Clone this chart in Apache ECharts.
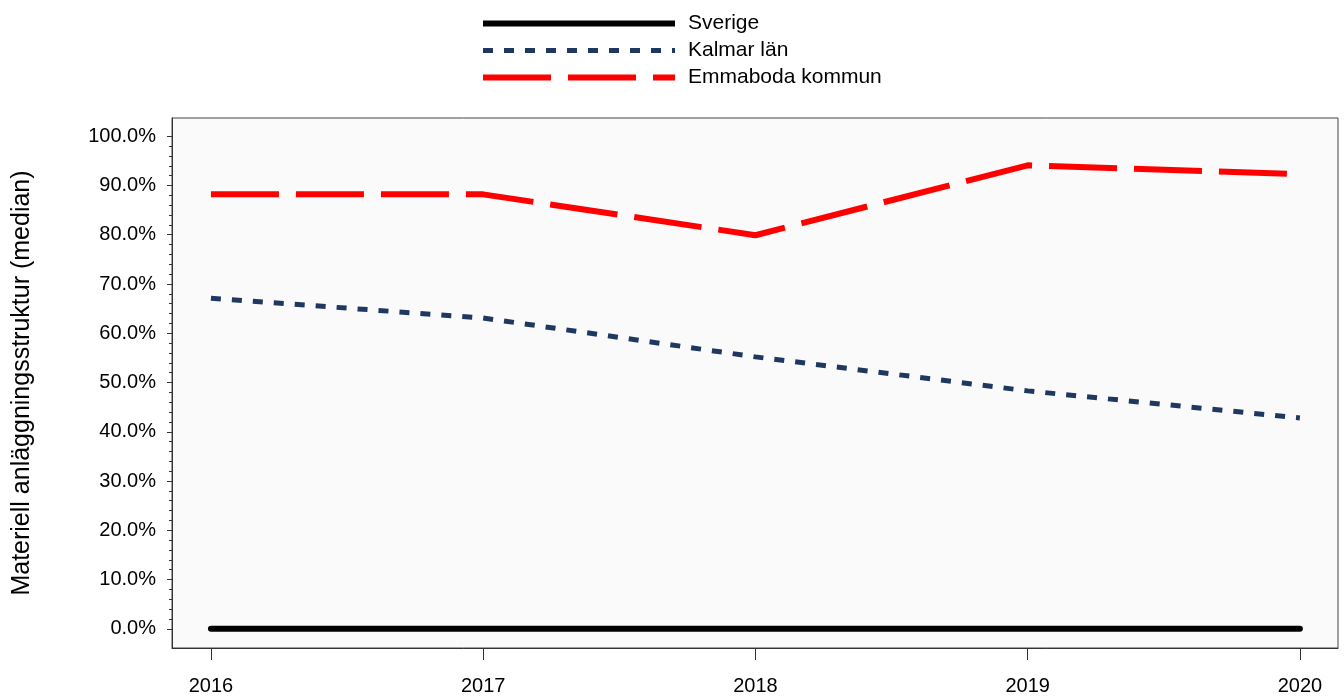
<!DOCTYPE html>
<html><head><meta charset="utf-8">
<script src="https://cdn.jsdelivr.net/npm/echarts@6/dist/echarts.min.js"></script>
<style>html,body{margin:0;padding:0;background:#fff}#c{width:1344px;height:698px}</style>
</head><body><div id="c"></div>
<script>
const years = [2016, 2017, 2018, 2019, 2020];
const sverige = [0, 0, 0, 0, 0];
const kalmar = [67.1, 63.1, 55.2, 48.3, 42.8];
const emmaboda = [88.2, 88.2, 79.9, 94.1, 92.3];
const yTicks = [0, 10, 20, 30, 40, 50, 60, 70, 80, 90, 100];
const yMinor = [];
for (let v = 2; v < 100; v += 2) if (v % 10 !== 0) yMinor.push(v);
const seriesNames = ['Sverige', 'Kalmar län', 'Emmaboda kommun'];

const pairs = arr => years.map((y, i) => [y, arr[i]]);
const font = 'Liberation Sans, Arial, sans-serif';

const styles = [
  {color: '#000000', width: 6, type: 'solid', cap: 'round'},
  {color: '#1f3860', width: 5, type: [10, 11], cap: 'butt'},
  {color: '#ff0000', width: 6, type: [68, 17], cap: 'butt'}
];

const chart = echarts.init(document.getElementById('c'), null, {renderer: 'canvas'});
chart.setOption({
  animation: false,
  backgroundColor: '#ffffff',
  legend: {
    orient: 'vertical',
    left: 475, top: 8,
    itemWidth: 192, itemHeight: 14, itemGap: 6,
    itemStyle: {color: 'transparent', borderWidth: 0, opacity: 0},
    textStyle: {fontFamily: font, fontSize: 21, color: '#000', padding: [0, 0, 0, 8]},
    data: seriesNames.map((n, i) => ({name: n,
      lineStyle: {color: styles[i].color, width: styles[i].width, type: styles[i].type, cap: 'butt'}}))
  },
  grid: {left: 172, right: 6, top: 118, bottom: 50, show: true,
    backgroundColor: '#fafafa', borderColor: '#444', borderWidth: 1},
  xAxis: {
    type: 'value', min: 2015.857, max: 2020.14,
    splitLine: {show: false},
    axisLine: {show: true, onZero: false, lineStyle: {color: '#333', width: 1}},
    axisTick: {show: true, length: 12, customValues: years, lineStyle: {color: '#333'}},
    axisLabel: {customValues: years, formatter: v => String(Math.round(v)), margin: 28,
      fontFamily: font, fontSize: 20, color: '#000'}
  },
  yAxis: [{
    type: 'value', min: -3.9, max: 103.7,
    name: 'Materiell anläggningsstruktur (median)',
    nameLocation: 'middle', nameGap: 137, nameRotate: 90,
    nameTextStyle: {fontFamily: font, fontSize: 25, color: '#000'},
    splitLine: {show: false},
    axisLine: {show: true, onZero: false, lineStyle: {color: '#333', width: 1}},
    axisTick: {show: true, length: 5, customValues: yTicks, lineStyle: {color: '#333'}},
    axisLabel: {customValues: yTicks, formatter: v => v.toFixed(1) + '%', margin: 16,
      fontFamily: font, fontSize: 20, color: '#000'}
  }, {
    type: 'value', min: -3.9, max: 103.7, position: 'left',
    splitLine: {show: false},
    axisLine: {show: false, onZero: false},
    axisTick: {show: true, length: 3, customValues: yMinor, lineStyle: {color: '#333'}},
    axisLabel: {show: false}
  }],
  series: [
    {name: seriesNames[0], type: 'line', data: pairs(sverige), symbol: 'none', z: 5,
      lineStyle: {color: styles[0].color, width: styles[0].width, cap: 'round', join: 'round'},
      itemStyle: {color: styles[0].color}},
    {name: seriesNames[1], type: 'line', data: pairs(kalmar), symbol: 'none', z: 4,
      lineStyle: {color: styles[1].color, width: styles[1].width, type: styles[1].type},
      itemStyle: {color: styles[1].color}},
    {name: seriesNames[2], type: 'line', data: pairs(emmaboda), symbol: 'none', z: 3,
      lineStyle: {color: styles[2].color, width: styles[2].width, type: styles[2].type},
      itemStyle: {color: styles[2].color}}
  ]
});
</script></body></html>
